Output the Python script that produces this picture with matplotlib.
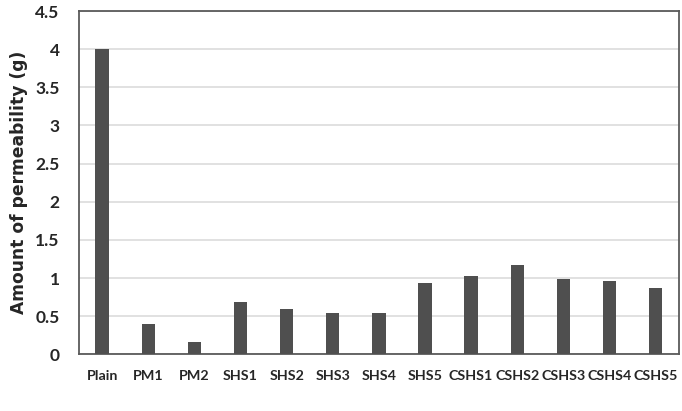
import matplotlib
matplotlib.use("Agg")
import matplotlib.pyplot as plt
import numpy as np

# Data
categories = ["Plain", "PM1", "PM2", "SHS1", "SHS2", "SHS3", "SHS4", "SHS5",
              "CSHS1", "CSHS2", "CSHS3", "CSHS4", "CSHS5"]
permeability = [4.0, 0.40, 0.16, 0.69, 0.59, 0.535, 0.535, 0.94,
                1.03, 1.165, 0.99, 0.96, 0.865]
y_ticks = [0, 0.5, 1, 1.5, 2, 2.5, 3, 3.5, 4, 4.5]
y_tick_labels = ["0", "0.5", "1", "1.5", "2", "2.5", "3", "3.5", "4", "4.5"]

tick_font = ["Lato", "DejaVu Sans"]
text_color = "#262626"

fig = plt.figure(figsize=(6.82, 4.11), dpi=100)
ax = fig.add_axes([0.116, 0.138, 0.879, 0.835])

x = np.arange(len(categories))
ax.bar(x, permeability, width=0.29, color="#4f4f4f", zorder=3)

ax.set_xlim(-0.5, len(categories) - 0.5)
ax.set_ylim(0, 4.5)
ax.set_yticks(y_ticks)
ax.set_yticklabels(y_tick_labels, family=tick_font, fontsize=12.5,
                   fontweight="bold", color=text_color)
ax.set_xticks(x)
ax.set_xticklabels(categories, family=tick_font, fontsize=10.3,
                   fontweight="bold", color=text_color)
ax.tick_params(axis="y", length=0, pad=14)
ax.tick_params(axis="x", length=0, pad=11)

ax.grid(axis="y", color="#dcdcdc", linewidth=1.2, zorder=0)
for side in ["left", "right", "top", "bottom"]:
    ax.spines[side].set_color("#5a5a5a")
    ax.spines[side].set_linewidth(1.3)

ax.set_ylabel("Amount of permeability (g)", family="DejaVu Sans",
              fontsize=12.3, fontweight="bold", color=text_color)
ax.yaxis.set_label_coords(-0.085, 0.5)

fig.savefig("out.png", dpi=100)
